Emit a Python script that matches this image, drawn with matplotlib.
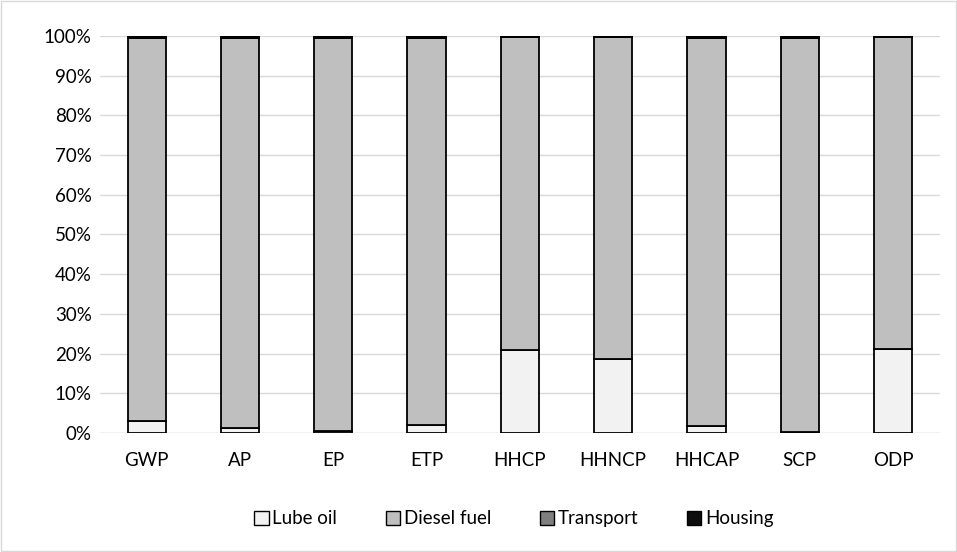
import numpy as np
import matplotlib.pyplot as plt
from matplotlib.patches import Rectangle

plt.rcParams['font.family'] = ['Lato', 'DejaVu Sans']

categories = ['GWP', 'AP', 'EP', 'ETP', 'HHCP', 'HHNCP', 'HHCAP', 'SCP', 'ODP']
lube_oil = [3.0, 1.2, 0.6, 2.0, 21.0, 18.7, 1.7, 0.3, 21.2]
transport = [0.1, 0.1, 0.1, 0.1, 0.05, 0.05, 0.1, 0.1, 0.05]
housing = [0.4, 0.5, 0.4, 0.4, 0.2, 0.2, 0.5, 0.5, 0.2]
diesel_fuel = [100 - l - t - h for l, t, h in zip(lube_oil, transport, housing)]

series = [('Lube oil', lube_oil, '#F2F2F2'),
          ('Diesel fuel', diesel_fuel, '#BFBFBF'),
          ('Transport', transport, '#7F7F7F'),
          ('Housing', housing, '#0D0D0D')]

fig = plt.figure(figsize=(9.57, 5.52), dpi=100)
ax = fig.add_axes([0.1045, 0.2156, 0.8775, 0.7192])

x = np.arange(len(categories))
bottom = np.zeros(len(categories))
for name, vals, col in series:
    ax.bar(x, vals, width=0.41, bottom=bottom, color=col, edgecolor='black',
           linewidth=1.3, label=name, zorder=3)
    bottom += np.array(vals)

ax.set_xlim(-0.5, len(categories) - 0.5)
ax.set_ylim(0, 100)
ax.set_yticks(np.arange(0, 101, 10))
ax.set_yticklabels([f'{v}%' for v in range(0, 101, 10)])
ax.set_xticks(x)
ax.set_xticklabels(categories)
ax.grid(axis='y', color='#D9D9D9', linewidth=1, zorder=0)
ax.tick_params(length=0, labelsize=13.5, colors='black')
ax.tick_params(axis='x', pad=14)
ax.tick_params(axis='y', pad=6)
for s in ax.spines.values():
    s.set_visible(False)
ax.axhline(0, color='#D9D9D9', linewidth=1, zorder=1)

handles = [Rectangle((0, 0), 1, 1, facecolor=c, edgecolor='black', linewidth=1)
           for _, _, c in series]
fig.legend(handles, [n for n, _, _ in series], loc='center', bbox_to_anchor=(0.537, 0.06),
           ncol=4, frameon=False, fontsize=13.5, handlelength=0.75, handleheight=0.75,
           handletextpad=0.2, columnspacing=2.6)

fig.patches.append(Rectangle((0.001, 0.002), 0.998, 0.996, transform=fig.transFigure,
                             fill=False, edgecolor='#D9D9D9', linewidth=1))

fig.savefig('out.png', dpi=100)
